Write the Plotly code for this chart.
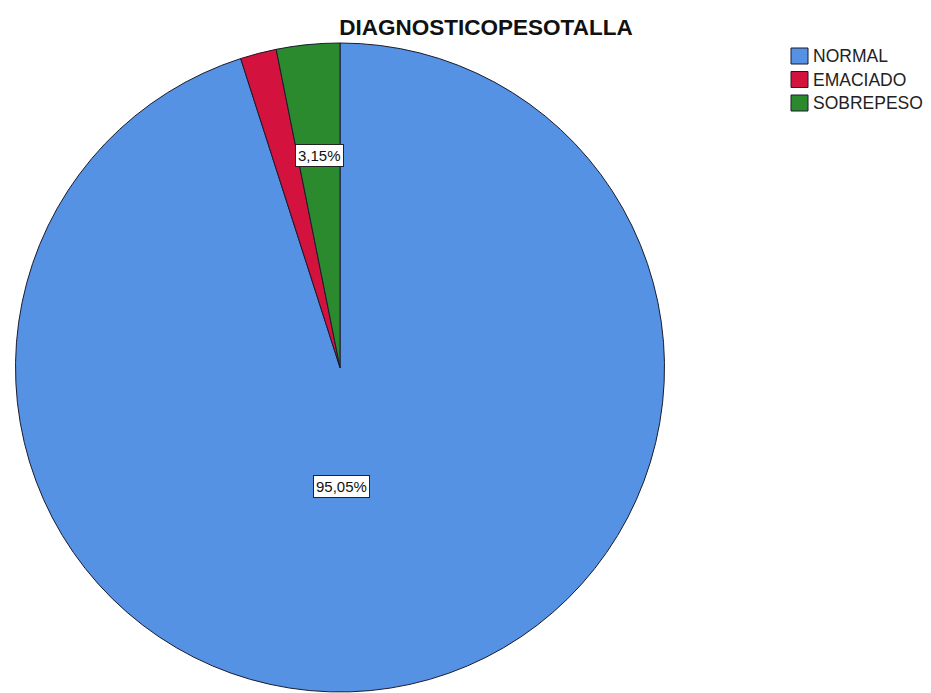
import math
import plotly.graph_objects as go

# Diagnóstico peso/talla: percentage of cases per category
categorias = ["NORMAL", "EMACIADO", "SOBREPESO"]
porcentajes = [95.05, 1.80, 3.15]
colores = ["#5592E3", "#D3123E", "#2B8A2E"]
# categories whose percentage is printed on the slice
etiquetadas = ["NORMAL", "SOBREPESO"]

W, H = 931, 693
pie_left, pie_right = 14, 666
m_top, m_bot = 43, 1
plot_h = H - m_top - m_bot
FONT = "Arial, Liberation Sans, sans-serif"


def px_to_paper(px, py):
    """Pixel position on the page -> paper coordinates of the plot area."""
    return px / W, (H - m_bot - py) / plot_h


fig = go.Figure(
    go.Pie(
        labels=categorias,
        values=porcentajes,
        marker=dict(colors=colores, line=dict(color="#1b1b2e", width=1)),
        sort=False,
        direction="clockwise",
        rotation=0,
        textinfo="none",
        hoverinfo="label+percent",
        domain=dict(x=[pie_left / W, pie_right / W], y=[0, 1]),
        showlegend=False,
    )
)

# boxed percentage labels
cx = (pie_left + pie_right) / 2
cy = m_top + plot_h / 2
R = min(pie_right - pie_left, plot_h) / 2
total = sum(porcentajes)
acc = 0.0
for cat, val in zip(categorias, porcentajes):
    start = acc / total * 2 * math.pi
    acc += val
    if cat not in etiquetadas:
        continue
    if cat == "NORMAL":
        # large slice: label sits below the centre
        lx, ly = cx + 1, cy + 0.367 * R
    else:
        mid = start + val / total * math.pi
        r = 0.655 * R
        lx, ly = cx + r * math.sin(mid), cy - r * math.cos(mid)
    ax, ay = px_to_paper(lx, ly)
    fig.add_annotation(
        x=ax, y=ay, xref="paper", yref="paper",
        xanchor="center", yanchor="middle",
        text=f"{val:.2f}%".replace(".", ","),
        showarrow=False,
        font=dict(family=FONT, size=15, color="#111111"),
        bgcolor="white",
        bordercolor="#222222",
        borderwidth=1,
        borderpad=2,
    )

# legend: coloured square + category name per row
leg_x0, leg_y0, leg_step, sq = 791, 48, 23.5, 16
for i, (cat, col) in enumerate(zip(categorias, colores)):
    top = leg_y0 + i * leg_step
    x0, y0 = px_to_paper(leg_x0, top + sq)
    x1, y1 = px_to_paper(leg_x0 + sq + 1, top)
    fig.add_shape(
        type="rect", xref="paper", yref="paper",
        x0=x0, y0=y0, x1=x1, y1=y1,
        fillcolor=col, line=dict(color="#1b1b2e", width=1),
    )
    tx, ty = px_to_paper(leg_x0 + sq + 4, top + sq / 2)
    fig.add_annotation(
        x=tx, y=ty, xref="paper", yref="paper",
        text=cat, showarrow=False,
        xanchor="left", yanchor="middle",
        font=dict(family=FONT, size=17.5, color="#222222"),
    )

fig.update_layout(
    width=W,
    height=H,
    margin=dict(l=0, r=0, t=m_top, b=m_bot),
    paper_bgcolor="white",
    plot_bgcolor="white",
    showlegend=False,
    title=dict(
        text="<b>DIAGNOSTICOPESOTALLA</b>",
        x=486 / W,
        xanchor="center",
        y=1 - 27 / H,
        yanchor="middle",
        font=dict(family=FONT, size=22.5, color="#111111"),
    ),
)

fig.write_html("out.html")
